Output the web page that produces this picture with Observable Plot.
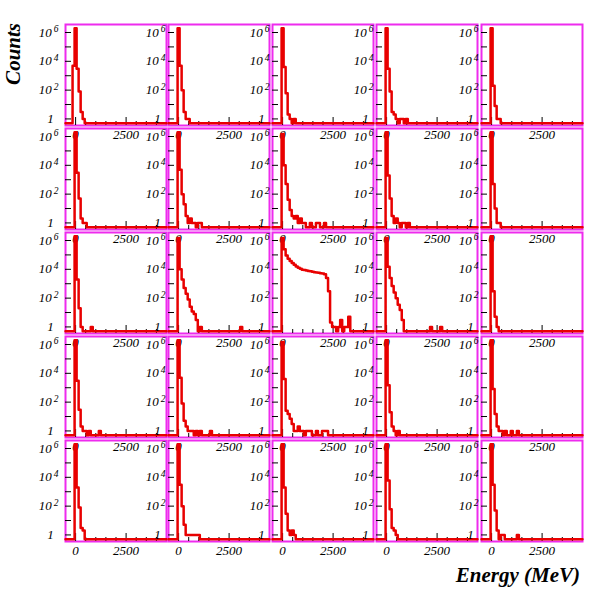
<!DOCTYPE html>
<html>
<head>
<meta charset="utf-8">
<script src="https://cdn.jsdelivr.net/npm/d3@7"></script>
<script src="https://cdn.jsdelivr.net/npm/@observablehq/plot@0.6"></script>
<style>
  body { margin: 0; background: #fff; }
  #chart { position: relative; width: 608px; height: 594px; overflow: hidden; background: #fff; }
  .panel { position: absolute; }
  .panel svg { overflow: visible; display: block; }
  #titles { position: absolute; left: 0; top: 0; }
</style>
</head>
<body>
<div id="chart">
  <svg id="titles" width="608" height="594" style="overflow:visible">
    <text transform="translate(20,23) rotate(-90)" text-anchor="end"
          style="font: italic bold 21px 'Liberation Serif', 'Times New Roman', serif;">Counts</text>
    <text x="580" y="582" text-anchor="end"
          style="font: italic bold 21px 'Liberation Serif', 'Times New Roman', serif;">Energy (MeV)</text>
  </svg>
</div>
<script>
// ---- axes / ticks ----
const xDomain = [-500, 4500];
const yDomain = [0.35, 3.6e6];
const xMajorTicks = [0, 2500];
const xMajorLabels = ["0", "2500"];
const xMinorTicks = [500, 1000, 1500, 2000, 3000, 3500, 4000];
const yTickValues = [1, 1e2, 1e4, 1e6];
const yTickBases = ["1", "10", "10", "10"];
const yTickExponents = ["", "2", "4", "6"];
const yDecadeTicks = [1, 10, 100, 1e3, 1e4, 1e5, 1e6];

// ---- histogram binning: bins of 100 MeV, first stored bin centred at -100 MeV ----
const binStart = -150;
const binWidth = 100;

// ---- counts per panel (row r, column c) ----
const r0c0 = [5000, 2000000, 3000, 80, 3, 1];
const r0c1 = [0, 2000000, 5000, 100, 3, 1, 1];
const r0c2 = [0, 2000000, 4000, 60, 2, 1, 0, 1];
const r0c3 = [0, 2000000, 3000, 80, 3, 2, 1, 0, 1, 1, 0, 1];
const r0c4 = [0, 2000000, 200, 8, 1, 1];

const r1c0 = [0, 2000000, 3000, 50, 2, 1, 1];
const r1c1 = [0, 2000000, 5000, 100, 20, 3, 1, 2, 1, 1, 0, 1, 1];
const r1c2 = [0, 1500000, 10000, 500, 40, 8, 3, 2, 3, 1, 2, 1, 1, 0, 0, 1, 0, 0, 1, 1, 0, 0, 1];
const r1c3 = [0, 2000000, 2000, 50, 3, 1, 2, 1, 0, 1, 1, 0, 1];
const r1c4 = [0, 2000000, 500, 10, 1, 1];

const r2c0 = [0, 2000000, 2000, 20, 1, 0, 0, 0, 0, 1];
const r2c1 = [0, 1500000, 10000, 2000, 500, 200, 80, 25, 12, 8, 3, 0, 1,
              0, 0, 0, 0, 0, 0, 0, 0, 0, 0, 0, 0, 0, 0, 0, 0, 0, 0, 0, 1];
const r2c2 = [0, 1500000, 250000, 90000, 55000, 38000, 28000, 21000, 16000, 13000, 11000,
              9500, 8800, 8200, 7700, 7200, 6700, 6300, 6000, 5700, 5400, 5100, 4500, 2500,
              300, 2, 1, 1, 0, 1, 3, 0, 1, 1, 5];
const r2c3 = [0, 1500000, 15000, 2500, 700, 250, 100, 35, 15, 3, 0,
              0, 0, 0, 0, 0, 0, 0, 0, 0, 0, 0, 0, 1, 0, 0, 0, 0, 1];
const r2c4 = [0, 2000000, 300, 5, 1];

const r3c0 = [0, 2000000, 3000, 30, 2, 1, 1, 0, 1, 0, 0, 0, 0, 1];
const r3c1 = [0, 2000000, 5000, 80, 5, 2, 1, 1, 1, 0, 1, 0, 1, 0, 0, 0, 0, 1];
const r3c2 = [0, 1500000, 4000, 25, 15, 7, 3, 1, 1, 2, 1, 1, 0, 1, 1, 1, 0, 0, 1, 0, 0, 1, 1, 1];
const r3c3 = [0, 2000000, 1500, 20, 2, 1, 0, 1];
const r3c4 = [0, 2000000, 800, 15, 2, 1, 1, 0, 1, 0, 0, 1, 0, 0, 1];

const r4c0 = [0, 2000000, 2000, 80, 3, 2];
const r4c1 = [0, 2000000, 3000, 100, 5, 1, 1, 1, 1, 1, 1, 1];
const r4c2 = [0, 2000000, 2000, 30, 2, 1, 2, 1];
const r4c3 = [0, 2000000, 6000, 60, 3, 2, 1];
const r4c4 = [0, 2000000, 3000, 50, 2, 0, 1, 1, 0, 0, 0, 0, 0, 0, 1];

const panelRows = [
  [r0c0, r0c1, r0c2, r0c3, r0c4],
  [r1c0, r1c1, r1c2, r1c3, r1c4],
  [r2c0, r2c1, r2c2, r2c3, r2c4],
  [r3c0, r3c1, r3c2, r3c3, r3c4],
  [r4c0, r4c1, r4c2, r4c3, r4c4]
];

// ---- layout / style ----
const colLeft = [65, 168, 272, 376, 481];
const rowTop = [24, 128, 232, 336, 440];
const W = 101, H = 101;
const ML = 48, MR = 4, MT = 4, MB = 24;
const histColor = "#e80000";
const frameColor = "#ee2bee";
const zeroLevel = 0.5; // where empty bins are drawn (just above the frame bottom)

function histPoints(counts) {
  const pts = [{x: xDomain[0], c: 0}];
  counts.forEach((c, i) => pts.push({x: binStart + i * binWidth, c}));
  pts.push({x: binStart + counts.length * binWidth, c: 0});
  pts.push({x: xDomain[1], c: 0});
  return pts;
}

const chart = document.getElementById("chart");
const titles = document.getElementById("titles");
const SVGNS = "http://www.w3.org/2000/svg";

panelRows.forEach((row, r) => {
  row.forEach((counts, c) => {
    const plot = Plot.plot({
      width: ML + W + MR,
      height: MT + H + MB,
      marginLeft: ML, marginRight: MR, marginTop: MT, marginBottom: MB,
      x: {domain: xDomain},
      y: {type: "log", domain: yDomain},
      style: {
        background: "transparent",
        overflow: "visible",
        fontFamily: "'Liberation Serif', 'Times New Roman', serif",
        fontStyle: "italic",
        fontSize: "13px",
        color: "#000"
      },
      marks: [
        Plot.frame({stroke: frameColor, strokeWidth: 2}),
        Plot.tickX(xMinorTicks, {x: d => d, insetTop: H - 4, stroke: "#000", strokeWidth: 1}),
        Plot.tickX(xMajorTicks, {x: d => d, insetTop: H - 8, stroke: "#000", strokeWidth: 1}),
        Plot.tickY(yDecadeTicks, {y: d => d, insetRight: W - 6, stroke: "#000", strokeWidth: 1}),
        Plot.line(histPoints(counts), {
          x: "x",
          y: d => Math.max(d.c, zeroLevel),
          curve: "step-after",
          stroke: histColor,
          strokeWidth: 2.5
        }),
        Plot.axisX(xMajorTicks, {
          tickSize: 0, tickPadding: 4, label: null,
          tickFormat: d => xMajorLabels[xMajorTicks.indexOf(d)],
          fill: "#000"
        }),
        Plot.axisY(yTickValues, {
          tickSize: 0, tickPadding: c === 0 ? 7 : 3, label: null,
          tickFormat: d => {
            const i = yTickValues.indexOf(d);
            return yTickBases[i] + "^" + yTickExponents[i];
          },
          fill: "#000"
        })
      ]
    });
    // render "10^n" labels with a raised exponent (as real text)
    plot.querySelectorAll("text").forEach(t => {
      const s = t.textContent;
      if (s.includes("^")) {
        const [base, exp] = s.split("^");
        while (t.firstChild) t.removeChild(t.firstChild);
        t.appendChild(document.createTextNode(base));
        const sup = document.createElementNS(SVGNS, "tspan");
        sup.setAttribute("dy", "-0.45em");
        sup.setAttribute("font-size", "9.5px");
        sup.textContent = exp === "" ? "\u2002" : "\u2009" + exp;
        t.appendChild(sup);
      }
    });
    const div = document.createElement("div");
    div.className = "panel";
    div.style.left = (colLeft[c] - ML) + "px";
    div.style.top = (rowTop[r] - MT) + "px";
    div.style.width = (ML + W + MR) + "px";
    div.style.height = (MT + H + MB) + "px";
    div.appendChild(plot);
    chart.insertBefore(div, titles);
  });
});
</script>
</body>
</html>
